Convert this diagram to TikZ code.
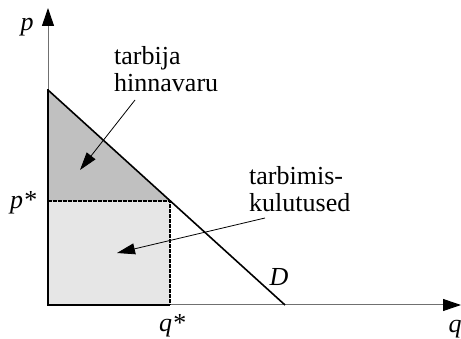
\documentclass[tikz,border=0pt]{standalone}
\usepackage{fontspec}
\setmainfont{Liberation Serif}
\usetikzlibrary{arrows.meta}
\definecolor{darkfill}{HTML}{C0C0C0}
\definecolor{lightfill}{HTML}{E6E6E6}
\definecolor{axisgray}{HTML}{707070}
\tikzset{
  axisline/.style={draw=axisgray, line width=1pt, -{Triangle[length=18pt,width=12pt,color=black]}},
  callout/.style={draw=black, line width=0.8pt, -{Triangle[length=18pt,width=11pt]}},
  lbl/.style={font=\fontsize{26}{27}\selectfont, align=left, inner sep=0pt},
  mlbl/.style={font=\fontsize{26}{28}\selectfont\itshape, inner sep=0pt},
  dashedge/.style={draw=black, line width=2.2pt, dash pattern=on 4pt off 1pt},
}
\begin{document}
\begin{tikzpicture}[x=1pt,y=-1pt]
\useasboundingbox (0,0) rectangle (461,339);
\coordinate (O) at (48,305);
\coordinate (Ytop) at (48,8);
\coordinate (Xend) at (461,305);
\coordinate (Dstart) at (48,90);
\coordinate (Dend) at (285,305);
\coordinate (E) at (170,201);
\coordinate (Pstar) at (48,201);
\coordinate (Qstar) at (170,305);
% fills
\fill[darkfill] (Dstart) -- (E) -- (Pstar) -- cycle;
\fill[lightfill] (Pstar) rectangle (Qstar);
% axes
\draw[axisline] (O) -- (Ytop);
\draw[axisline] (O) -- (Xend);
% rectangle edges
\draw[dashedge] (Pstar) -- (E) -- (Qstar);
\draw[black, line width=2pt] (Pstar) -- (O) -- (Qstar);
\draw[black, line width=2pt] (48,89) -- (48,202);
% demand
\draw[black, line width=1.6pt] (Dstart) -- (Dend);
% labels
\node[mlbl] (p) at (27,27) {p};
\node[mlbl] (q) at (455,329) {q};
\node[mlbl] (ps) at (23,203) {p*};
\node[mlbl] (qs) at (172,326) {q*};
\node[mlbl] (D) at (279,277) {D};
\node[lbl, anchor=west] (t1) at (114,69) {tarbija\\hinnavaru};
\node[lbl, anchor=west] (t2) at (249,189) {tarbimis-\\kulutused};
% callouts
\coordinate (a1s) at (135,100);
\coordinate (a1e) at (80,170);
\coordinate (a2s) at (265,218);
\coordinate (a2e) at (117,253);
\draw[callout] (a1s) -- (a1e);
\draw[callout] (a2s) -- (a2e);
\end{tikzpicture}
\end{document}
